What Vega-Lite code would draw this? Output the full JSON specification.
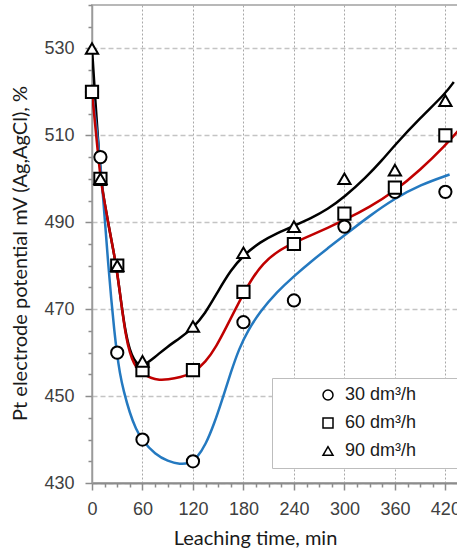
{
  "$schema": "https://vega.github.io/schema/vega-lite/v6.json",
  "width": 366,
  "height": 478,
  "autosize": {"type": "none"},
  "padding": {"left": 92, "top": 5, "right": 0, "bottom": 69},
  "background": "white",
  "config": {
    "view": {"stroke": "#b8b8b8", "strokeWidth": 2},
    "axis": {
      "labelFont": "Liberation Sans Narrow, Arial Narrow, Liberation Sans",
      "labelFontSize": 18,
      "labelColor": "#404040",
      "titleFont": "Lato",
      "titleFontSize": 20,
      "titleFontWeight": "normal",
      "titleColor": "#1a1a1a",
      "domainColor": "#8c8c8c",
      "domainWidth": 2,
      "tickColor": "#8c8c8c",
      "tickWidth": 1.5
    }
  },
  "datasets": {
    "curves": [
      {"curve": "90", "t": 0, "v": 530},
      {"curve": "90", "t": 10, "v": 500},
      {"curve": "90", "t": 15, "v": 494.5},
      {"curve": "90", "t": 20, "v": 489},
      {"curve": "90", "t": 25, "v": 484},
      {"curve": "90", "t": 30, "v": 478.5},
      {"curve": "90", "t": 35, "v": 471},
      {"curve": "90", "t": 40, "v": 464.5},
      {"curve": "90", "t": 45, "v": 460.5},
      {"curve": "90", "t": 50, "v": 458.3},
      {"curve": "90", "t": 55, "v": 457.2},
      {"curve": "90", "t": 60, "v": 456.8},
      {"curve": "90", "t": 75, "v": 459},
      {"curve": "90", "t": 89, "v": 461.3},
      {"curve": "90", "t": 105, "v": 463.4},
      {"curve": "90", "t": 120, "v": 465.7},
      {"curve": "90", "t": 134, "v": 468.8},
      {"curve": "90", "t": 150, "v": 474.2},
      {"curve": "90", "t": 165, "v": 479},
      {"curve": "90", "t": 180, "v": 482.4},
      {"curve": "90", "t": 200, "v": 485.5},
      {"curve": "90", "t": 220, "v": 487.5},
      {"curve": "90", "t": 240, "v": 489.2},
      {"curve": "90", "t": 260, "v": 490.9},
      {"curve": "90", "t": 280, "v": 493},
      {"curve": "90", "t": 300, "v": 495.8},
      {"curve": "90", "t": 326, "v": 500.4},
      {"curve": "90", "t": 345, "v": 504.3},
      {"curve": "90", "t": 360, "v": 507.8},
      {"curve": "90", "t": 390, "v": 514},
      {"curve": "90", "t": 420, "v": 519.6},
      {"curve": "90", "t": 430, "v": 522.3},
      {"curve": "30", "t": 0, "v": 520},
      {"curve": "30", "t": 5, "v": 512.5},
      {"curve": "30", "t": 9.5, "v": 504.5},
      {"curve": "30", "t": 12.5, "v": 497.5},
      {"curve": "30", "t": 15.5, "v": 490},
      {"curve": "30", "t": 19, "v": 481},
      {"curve": "30", "t": 23, "v": 472},
      {"curve": "30", "t": 26.5, "v": 465},
      {"curve": "30", "t": 29.5, "v": 460},
      {"curve": "30", "t": 33, "v": 455.3},
      {"curve": "30", "t": 37.5, "v": 451.2},
      {"curve": "30", "t": 45, "v": 446},
      {"curve": "30", "t": 52, "v": 442.5},
      {"curve": "30", "t": 60, "v": 439.7},
      {"curve": "30", "t": 75, "v": 436.6},
      {"curve": "30", "t": 90, "v": 435},
      {"curve": "30", "t": 105, "v": 434.3},
      {"curve": "30", "t": 115, "v": 434.5},
      {"curve": "30", "t": 125, "v": 435.8},
      {"curve": "30", "t": 135, "v": 438.8},
      {"curve": "30", "t": 145, "v": 443.5},
      {"curve": "30", "t": 155, "v": 449.3},
      {"curve": "30", "t": 165, "v": 455.5},
      {"curve": "30", "t": 175, "v": 461},
      {"curve": "30", "t": 185, "v": 465},
      {"curve": "30", "t": 200, "v": 469.5},
      {"curve": "30", "t": 220, "v": 474},
      {"curve": "30", "t": 240, "v": 477.6},
      {"curve": "30", "t": 260, "v": 480.9},
      {"curve": "30", "t": 280, "v": 484},
      {"curve": "30", "t": 300, "v": 487},
      {"curve": "30", "t": 330, "v": 491.5},
      {"curve": "30", "t": 360, "v": 495.5},
      {"curve": "30", "t": 390, "v": 498.6},
      {"curve": "30", "t": 425, "v": 501},
      {"curve": "60", "t": 0, "v": 520},
      {"curve": "60", "t": 5, "v": 510},
      {"curve": "60", "t": 10, "v": 500},
      {"curve": "60", "t": 15, "v": 494.5},
      {"curve": "60", "t": 20, "v": 489},
      {"curve": "60", "t": 25, "v": 484},
      {"curve": "60", "t": 30, "v": 478.5},
      {"curve": "60", "t": 35, "v": 471},
      {"curve": "60", "t": 40, "v": 464},
      {"curve": "60", "t": 45, "v": 459.8},
      {"curve": "60", "t": 50, "v": 457.4},
      {"curve": "60", "t": 55, "v": 456},
      {"curve": "60", "t": 60, "v": 455.2},
      {"curve": "60", "t": 70, "v": 454.1},
      {"curve": "60", "t": 80, "v": 453.7},
      {"curve": "60", "t": 90, "v": 453.8},
      {"curve": "60", "t": 105, "v": 454.3},
      {"curve": "60", "t": 120, "v": 455.3},
      {"curve": "60", "t": 135, "v": 457.8},
      {"curve": "60", "t": 148, "v": 461.5},
      {"curve": "60", "t": 160, "v": 466},
      {"curve": "60", "t": 171.5, "v": 470.4},
      {"curve": "60", "t": 180, "v": 473.5},
      {"curve": "60", "t": 190, "v": 477},
      {"curve": "60", "t": 203, "v": 480.5},
      {"curve": "60", "t": 220, "v": 483.3},
      {"curve": "60", "t": 240, "v": 485.3},
      {"curve": "60", "t": 260, "v": 487},
      {"curve": "60", "t": 280, "v": 488.7},
      {"curve": "60", "t": 300, "v": 490.5},
      {"curve": "60", "t": 330, "v": 493.5},
      {"curve": "60", "t": 360, "v": 497.2},
      {"curve": "60", "t": 390, "v": 502},
      {"curve": "60", "t": 420, "v": 507.7},
      {"curve": "60", "t": 435, "v": 511}
    ],
    "points": [
      {"series": "30 dm³/h", "t": 0, "v": 520},
      {"series": "30 dm³/h", "t": 10, "v": 505},
      {"series": "30 dm³/h", "t": 30, "v": 460},
      {"series": "30 dm³/h", "t": 60, "v": 440},
      {"series": "30 dm³/h", "t": 120, "v": 435},
      {"series": "30 dm³/h", "t": 180, "v": 467},
      {"series": "30 dm³/h", "t": 240, "v": 472},
      {"series": "30 dm³/h", "t": 300, "v": 489},
      {"series": "30 dm³/h", "t": 360, "v": 497},
      {"series": "30 dm³/h", "t": 420, "v": 497},
      {"series": "60 dm³/h", "t": 0, "v": 520},
      {"series": "60 dm³/h", "t": 10, "v": 500},
      {"series": "60 dm³/h", "t": 30, "v": 480},
      {"series": "60 dm³/h", "t": 60, "v": 456},
      {"series": "60 dm³/h", "t": 120, "v": 456},
      {"series": "60 dm³/h", "t": 180, "v": 474},
      {"series": "60 dm³/h", "t": 240, "v": 485},
      {"series": "60 dm³/h", "t": 300, "v": 492},
      {"series": "60 dm³/h", "t": 360, "v": 498},
      {"series": "60 dm³/h", "t": 420, "v": 510},
      {"series": "90 dm³/h", "t": 0, "v": 530},
      {"series": "90 dm³/h", "t": 10, "v": 500},
      {"series": "90 dm³/h", "t": 30, "v": 480},
      {"series": "90 dm³/h", "t": 60, "v": 458},
      {"series": "90 dm³/h", "t": 120, "v": 466},
      {"series": "90 dm³/h", "t": 180, "v": 483},
      {"series": "90 dm³/h", "t": 240, "v": 489},
      {"series": "90 dm³/h", "t": 300, "v": 500},
      {"series": "90 dm³/h", "t": 360, "v": 502},
      {"series": "90 dm³/h", "t": 420, "v": 518}
    ]
  },
  "encoding": {
    "x": {
      "field": "t",
      "type": "quantitative",
      "scale": {"domain": [0, 435], "nice": false, "zero": false},
      "axis": {
        "title": "Leaching time, min",
        "values": [0, 15, 30, 45, 60, 75, 90, 105, 120, 135, 150, 165, 180, 195, 210, 225, 240, 255, 270, 285, 300, 315, 330, 345, 360, 375, 390, 405, 420],
        "labelExpr": "datum.value % 60 === 0 ? datum.label : ''",
        "tickSize": {"condition": {"test": "datum.value % 60 === 0", "value": 7}, "value": 4},
        "gridOpacity": {"condition": {"test": "datum.value % 60 === 0", "value": 1}, "value": 0},
        "gridColor": "#a8a8a8",
        "gridDash": [2, 2],
        "gridWidth": 1,
        "labelPadding": 10,
        "labelFlush": false,
        "labelOverlap": false,
        "titleX": 163,
        "titleY": 61,
        "titleAlign": "center",
        "titleBaseline": "alphabetic"
      }
    },
    "y": {
      "field": "v",
      "type": "quantitative",
      "scale": {"domain": [430, 540], "nice": false, "zero": false},
      "axis": {
        "title": "Pt electrode potential mV (Ag,AgCl), %",
        "values": [430, 435, 440, 445, 450, 455, 460, 465, 470, 475, 480, 485, 490, 495, 500, 505, 510, 515, 520, 525, 530, 535, 540],
        "labelExpr": "(datum.value - 430) % 20 === 0 && datum.value < 540 ? datum.label : ''",
        "tickSize": {"condition": {"test": "(datum.value - 430) % 20 === 0", "value": 7}, "value": 4},
        "gridOpacity": {"condition": {"test": "(datum.value - 430) % 20 === 0", "value": 1}, "value": 0},
        "gridColor": "#c4c4c4",
        "gridDash": [5, 3],
        "gridWidth": 1.5,
        "domainColor": "#9a9a9a",
        "domainWidth": 1.5,
        "labelPadding": 11,
        "labelFlush": false,
        "labelOverlap": false,
        "titleAngle": 270,
        "titleX": -72,
        "titleY": 248,
        "titleAlign": "center",
        "titleBaseline": "middle"
      }
    }
  },
  "layer": [
    {
      "data": {"name": "curves"},
      "mark": {"type": "line", "interpolate": "basis", "strokeWidth": 2.5, "clip": true},
      "encoding": {
        "color": {
          "field": "curve",
          "type": "nominal",
          "scale": {"domain": ["30", "60", "90"], "range": ["#2479c0", "#c00000", "#000000"]},
          "legend": null
        },
        "order": {"field": "t", "type": "quantitative"}
      }
    },
    {
      "data": {"name": "points"},
      "mark": {"type": "point", "filled": false, "fill": "white", "fillOpacity": 1, "stroke": "black", "strokeWidth": 2, "size": 150, "opacity": 1},
      "encoding": {
        "shape": {
          "field": "series",
          "type": "nominal",
          "scale": {"domain": ["30 dm³/h", "60 dm³/h", "90 dm³/h"], "range": ["circle", "square", "triangle-up"]},
          "legend": {
            "orient": "none",
            "legendX": 180,
            "legendY": 373,
            "title": "\u200b",
            "titleOrient": "left",
            "titlePadding": 39,
            "titleFontSize": 18,
            "direction": "vertical",
            "padding": 8,
            "strokeColor": "#bdbdbd",
            "fillColor": "white",
            "labelFont": "Liberation Sans",
            "labelFontSize": 18,
            "labelColor": "#1a1a1a",
            "symbolSize": 100,
            "symbolStrokeWidth": 1.5,
            "labelOffset": 8,
            "rowPadding": 10,
            "labelExpr": "datum.label + '\u00a0\u00a0\u00a0\u00a0\u00a0\u00a0\u00a0\u200b'"
          }
        }
      }
    }
  ]
}
